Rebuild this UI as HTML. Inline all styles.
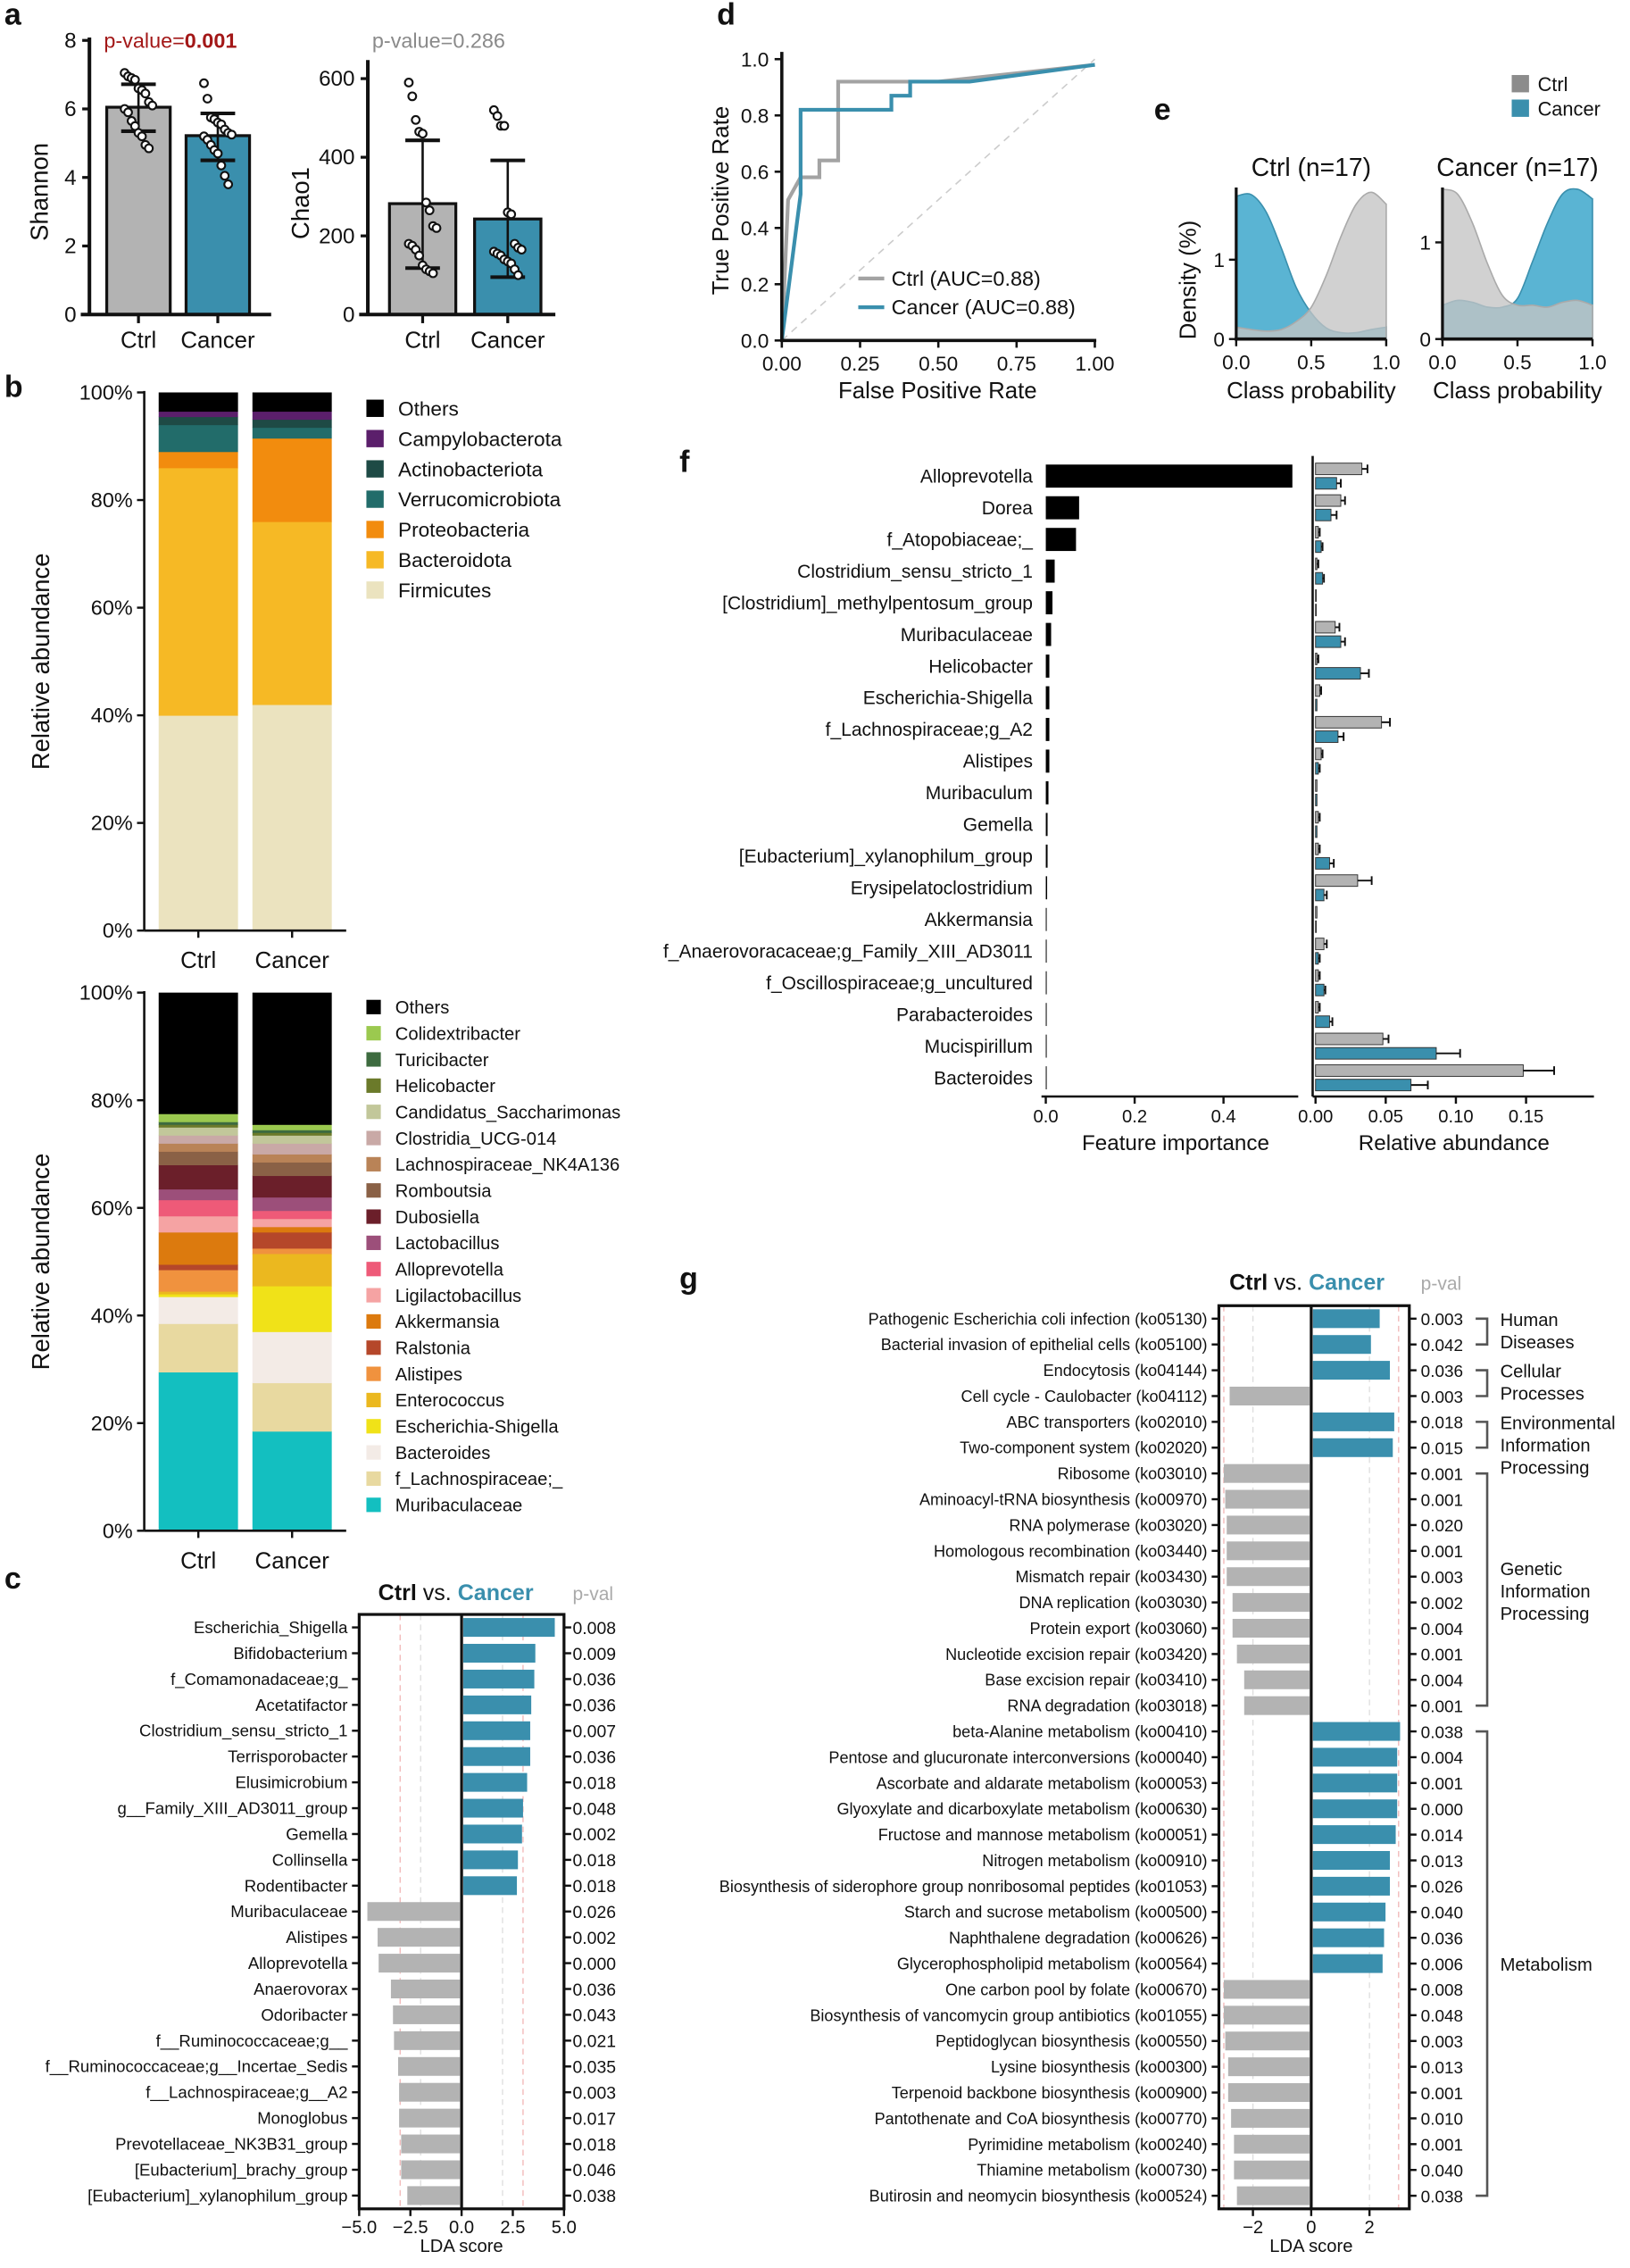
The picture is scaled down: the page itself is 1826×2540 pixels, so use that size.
<!DOCTYPE html>
<html><head><meta charset="utf-8"><style>
html,body{margin:0;padding:0;background:#fff;}
svg{display:block;font-family:"Liberation Sans",Arial,sans-serif;}
</style></head><body>
<svg id="fig" xmlns="http://www.w3.org/2000/svg" width="1826" height="2540" viewBox="0 0 1130 1572" preserveAspectRatio="none"></svg>
<script>
// ---------- data ----------
const groups=['Ctrl','Cancer'];
const shannonMean=[6.05,5.22];
const shannonLo=[5.35,4.5];
const shannonHi=[6.72,5.87];
const shannonCtrlPts=[7.05,6.95,6.9,6.85,6.6,6.55,6.45,6.2,6.1,6.0,5.9,5.65,5.5,5.3,5.2,4.95,4.85];
const shannonCancerPts=[6.75,6.3,5.75,5.7,5.6,5.55,5.4,5.3,5.25,5.2,5.1,4.95,4.8,4.7,4.35,4.05,3.8];
const shannonTicks=[0,2,4,6,8];
const chaoMean=[282,243];
const chaoLo=[118,95];
const chaoHi=[443,392];
const chaoCtrlPts=[590,555,495,465,460,285,265,225,220,180,175,165,150,125,115,110,105];
const chaoCancerPts=[520,505,480,480,260,255,180,170,165,160,155,150,140,135,130,115,100];
const chaoTicks=[0,200,400,600];

const phyla=['Firmicutes','Bacteroidota','Proteobacteria','Verrucomicrobiota','Actinobacteriota','Campylobacterota','Others'];
const phylaColors=['#ebe3bf','#f6b925','#f28c0e','#226c6a','#1e4a45','#5b1f6b','#000000'];
const phylaCtrl=[40,46,3,5,1.5,1,3.5];
const phylaCancer=[42,34,15.5,2,1.5,1.5,3.5];
const pctTicks=[0,20,40,60,80,100];

const genera=['Muribaculaceae','f_Lachnospiraceae;_','Bacteroides','Escherichia-Shigella','Enterococcus','Alistipes','Ralstonia','Akkermansia','Ligilactobacillus','Alloprevotella','Lactobacillus','Dubosiella','Romboutsia','Lachnospiraceae_NK4A136','Clostridia_UCG-014','Candidatus_Saccharimonas','Helicobacter','Turicibacter','Colidextribacter','Others'];
const generaColors=['#13bfc0','#e8d9a0','#f3ebe6','#f0e218','#ebb81f','#f0923e','#b5472a','#dc7a0e','#f5a3a3','#ee5a78','#9c4f7a','#6b1f2a','#8a6146','#b98357','#c9a9a6','#c2c79a','#6b7a2a','#3d6b3f','#9bc94f','#000000'];
const generaCtrl=[29.5,9,5,0.5,0.5,4,1,6,3,3,2,4.5,2.5,1.5,1.5,1.5,0.5,0.5,1.5];
const generaCancer=[18.5,9,9.5,8.5,6,1,3,1,1.5,1.5,2.5,4,2.5,1.5,2,1.5,0.5,0.5,1];

const ldaC_names=['Escherichia_Shigella','Bifidobacterium','f_Comamonadaceae;g_','Acetatifactor','Clostridium_sensu_stricto_1','Terrisporobacter','Elusimicrobium','g__Family_XIII_AD3011_group','Gemella','Collinsella','Rodentibacter','Muribaculaceae','Alistipes','Alloprevotella','Anaerovorax','Odoribacter','f__Ruminococcaceae;g__','f__Ruminococcaceae;g__Incertae_Sedis','f__Lachnospiraceae;g__A2','Monoglobus','Prevotellaceae_NK3B31_group','[Eubacterium]_brachy_group','[Eubacterium]_xylanophilum_group'];
const ldaC_vals=[4.55,3.6,3.55,3.4,3.35,3.35,3.2,3.0,2.95,2.75,2.7,-4.6,-4.1,-4.05,-3.45,-3.35,-3.3,-3.1,-3.05,-3.05,-2.95,-2.95,-2.65];
const ldaC_p=['0.008','0.009','0.036','0.036','0.007','0.036','0.018','0.048','0.002','0.018','0.018','0.026','0.002','0.000','0.036','0.043','0.021','0.035','0.003','0.017','0.018','0.046','0.038'];
const ldaC_ticks=[-5,-2.5,0,2.5,5];

const rocCtrlFpr=[0,0.02,0.06,0.12,0.12,0.18,0.18,0.5,1.0];
const rocCtrlTpr=[0,0.5,0.58,0.58,0.64,0.64,0.92,0.92,0.98];
const rocCancerFpr=[0,0.06,0.06,0.35,0.35,0.41,0.41,0.6,1.0];
const rocCancerTpr=[0,0.52,0.82,0.82,0.87,0.87,0.92,0.92,0.98];
const rocTicks=[0,0.2,0.4,0.6,0.8,1.0];
const rocXTicks=[0,0.25,0.5,0.75,1.0];

const densX=[0,0.1,0.2,0.3,0.4,0.5,0.6,0.7,0.8,0.9,1.0];
const densCtrlPanelCancer=[1.8,1.82,1.6,1.15,0.65,0.33,0.14,0.08,0.08,0.12,0.15];
const densCtrlPanelCtrl=[0.15,0.12,0.1,0.12,0.22,0.4,0.8,1.3,1.7,1.85,1.7];
const densCancerPanelCtrl=[1.55,1.5,1.2,0.78,0.45,0.35,0.35,0.33,0.38,0.4,0.35];
const densCancerPanelCancer=[0.35,0.4,0.38,0.33,0.33,0.42,0.8,1.2,1.5,1.55,1.45];

const fNames=['Alloprevotella','Dorea','f_Atopobiaceae;_','Clostridium_sensu_stricto_1','[Clostridium]_methylpentosum_group','Muribaculaceae','Helicobacter','Escherichia-Shigella','f_Lachnospiraceae;g_A2','Alistipes','Muribaculum','Gemella','[Eubacterium]_xylanophilum_group','Erysipelatoclostridium','Akkermansia','f_Anaerovoracaceae;g_Family_XIII_AD3011','f_Oscillospiraceae;g_uncultured','Parabacteroides','Mucispirillum','Bacteroides'];
const fImportance=[0.555,0.075,0.068,0.02,0.015,0.012,0.008,0.008,0.008,0.008,0.006,0.004,0.004,0.003,0.002,0.002,0.002,0.002,0.002,0.002];
const fCtrlAbund=[0.033,0.018,0.002,0.001,0.0,0.014,0.001,0.003,0.047,0.004,0.001,0.002,0.002,0.03,0.001,0.006,0.002,0.002,0.048,0.148];
const fCtrlErr=[0.004,0.003,0.001,0.001,0.0,0.003,0.001,0.001,0.006,0.001,0.0,0.001,0.001,0.01,0.0,0.002,0.001,0.001,0.004,0.022];
const fCancerAbund=[0.015,0.011,0.004,0.005,0.0,0.018,0.032,0.001,0.016,0.002,0.001,0.001,0.01,0.006,0.0,0.002,0.006,0.01,0.086,0.068];
const fCancerErr=[0.003,0.004,0.001,0.001,0.0,0.003,0.006,0.0,0.004,0.001,0.0,0.0,0.003,0.002,0.0,0.001,0.001,0.002,0.017,0.012];
const fImpTicks=[0,0.2,0.4];
const fAbTicks=[0,0.05,0.1,0.15];

const ldaG_names=['Pathogenic Escherichia coli infection (ko05130)','Bacterial invasion of epithelial cells (ko05100)','Endocytosis (ko04144)','Cell cycle - Caulobacter (ko04112)','ABC transporters (ko02010)','Two-component system (ko02020)','Ribosome (ko03010)','Aminoacyl-tRNA biosynthesis (ko00970)','RNA polymerase (ko03020)','Homologous recombination (ko03440)','Mismatch repair (ko03430)','DNA replication (ko03030)','Protein export (ko03060)','Nucleotide excision repair (ko03420)','Base excision repair (ko03410)','RNA degradation (ko03018)','beta-Alanine metabolism (ko00410)','Pentose and glucuronate interconversions (ko00040)','Ascorbate and aldarate metabolism (ko00053)','Glyoxylate and dicarboxylate metabolism (ko00630)','Fructose and mannose metabolism (ko00051)','Nitrogen metabolism (ko00910)','Biosynthesis of siderophore group nonribosomal peptides (ko01053)','Starch and sucrose metabolism (ko00500)','Naphthalene degradation (ko00626)','Glycerophospholipid metabolism (ko00564)','One carbon pool by folate (ko00670)','Biosynthesis of vancomycin group antibiotics (ko01055)','Peptidoglycan biosynthesis (ko00550)','Lysine biosynthesis (ko00300)','Terpenoid backbone biosynthesis (ko00900)','Pantothenate and CoA biosynthesis (ko00770)','Pyrimidine metabolism (ko00240)','Thiamine metabolism (ko00730)','Butirosin and neomycin biosynthesis (ko00524)'];
const ldaG_vals=[2.35,2.05,2.7,-2.8,2.85,2.8,-3.0,-2.95,-2.9,-2.9,-2.9,-2.7,-2.7,-2.55,-2.3,-2.3,3.05,2.95,2.95,2.95,2.9,2.7,2.7,2.55,2.5,2.45,-3.0,-3.0,-2.95,-2.85,-2.85,-2.75,-2.65,-2.65,-2.55];
const ldaG_p=['0.003','0.042','0.036','0.003','0.018','0.015','0.001','0.001','0.020','0.001','0.003','0.002','0.004','0.001','0.004','0.001','0.038','0.004','0.001','0.000','0.014','0.013','0.026','0.040','0.036','0.006','0.008','0.048','0.003','0.013','0.001','0.010','0.001','0.040','0.038'];
const ldaG_ticks=[-2,0,2];
const ldaG_cats=['Human|Diseases','Cellular|Processes','Environmental|Information|Processing','Genetic|Information|Processing','Metabolism'];
const ldaG_catStart=[0,2,4,6,16];
const ldaG_catEnd=[1,3,5,15,34];

// ---------- helpers ----------
const NS='http://www.w3.org/2000/svg';
const svg=document.getElementById('fig');
const TEAL='#3a8fad', GRAY='#b3b3b3';
function mk(tag,attrs,parent){const e=document.createElementNS(NS,tag);for(const k in attrs)e.setAttribute(k,attrs[k]);(parent||svg).appendChild(e);return e;}
function txt(x,y,s,size,opts,parent,name){
  const t=mk('text',Object.assign({x:x,y:y,'font-size':size,fill:'#111'},opts||{}),parent);
  t.textContent=s;
  
  
  return t;}
function line(x1,y1,x2,y2,sw,col,parent,extra){return mk('line',Object.assign({x1:x1,y1:y1,x2:x2,y2:y2,stroke:col||'#111','stroke-width':sw||1},extra||{}),parent);}
function grp(name){const g=mk('g',{});return g;}

[['a',3,17],['b',3,275],['c',3,1101],['d',497,17],['e',800,83],['f',471,327],['g',471,893]].forEach(p=>{
  txt(p[1],p[2],p[0],21,{'font-weight':'bold'},null,'panel-letter-'+p[0]);
});

// ---------- panel a ----------
function barDot(gname,ax,y0,yfun,maxTick,ticks,mean,lo,hi,ptsA,ptsB,ylab,ylabX,xEnd,centers,w){
  const g=grp(gname);
  const ys=yfun;
  for(let i=0;i<2;i++){
    const r=mk('rect',{x:centers[i]-w/2,y:ys(mean[i]),width:w,height:y0-ys(mean[i]),fill:i?TEAL:GRAY,stroke:'#111','stroke-width':2},g);
    
    
    const el=line(centers[i],ys(lo[i]),centers[i],ys(hi[i]),1.6,'#111',g);
    
    
    line(centers[i]-12,ys(lo[i]),centers[i]+12,ys(lo[i]),2.5,'#111',g);
    line(centers[i]-12,ys(hi[i]),centers[i]+12,ys(hi[i]),2.5,'#111',g);
    const pts=i?ptsB:ptsA;
    pts.forEach((v,k)=>{
      const dx=(((k*37)%9)-4)*2.4;
      const c=mk('circle',{cx:centers[i]+dx,cy:ys(v),r:2.7,fill:'#fff',stroke:'#111','stroke-width':1.3},g);
      
      
    });
    line(centers[i],y0,centers[i],y0+6,2,'#111',g);
    txt(centers[i],y0+23,groups[i],16,{'text-anchor':'middle'},g,'x-tick-label');
  }
  line(ax,ys(maxTick)-2,ax,y0,2.5,'#111',g);
  line(ax-6,y0,xEnd,y0,2.5,'#111',g);
  ticks.forEach(t=>{line(ax-5,ys(t),ax,ys(t),2,'#111',g);txt(ax-9,ys(t)+5,String(t),15,{'text-anchor':'end'},g,'y-tick-label');});
  const cy=(y0+ys(maxTick))/2+10;
  txt(ylabX,cy,ylab,17,{'text-anchor':'middle',transform:'rotate(-90 '+ylabX+' '+cy+')'},g,'y-axis-title');
  return g;
}
const gA1=barDot('shannon-chart',62,218,v=>218-v*23.75,8,shannonTicks,shannonMean,shannonLo,shannonHi,shannonCtrlPts,shannonCancerPts,'Shannon',33,188,[96,151],44);
const pv1=txt(72,33,'p-value=',14.5,{fill:'#a31818'},gA1,'p-value-shannon');
const ts=mk('tspan',{'font-weight':'bold'},pv1);ts.textContent='0.001';
const gA2=barDot('chao1-chart',255,218,v=>218-v*0.2725,640,chaoTicks,chaoMean,chaoLo,chaoHi,chaoCtrlPts,chaoCancerPts,'Chao1',214,385,[293,352],46);
txt(258,33,'p-value=0.286',14.5,{fill:'#8a8a8a'},gA2,'p-value-chao1');

// ---------- panel b ----------
function stacked(gname,yTop,y0,names,colors,ctrl,cancer,legendY0,legendStep,sq,fs){
  const g=grp(gname);
  const sc=(y0-yTop)/100;
  const yv=v=>y0-v*sc;
  [ctrl,cancer].forEach((arr,gi)=>{
    const x=gi?175:110;
    let cum=0;
    const vals=arr.slice();
    if(vals.length<names.length){vals.push(100-vals.reduce((a,b)=>a+b,0));}
    vals.forEach((v,k)=>{
      const r=mk('rect',{x:x,y:yv(cum+v),width:55,height:v*sc+0.3,fill:colors[k]},g);
      
      
      cum+=v;
    });
    line(x+27.5,y0,x+27.5,y0+5,1.5,'#111',g);
    txt(x+27.5,y0+26,groups[gi],16,{'text-anchor':'middle'},g,'x-tick-label');
  });
  line(100,yTop-1,100,y0,1.6,'#111',g);
  line(100,y0,240,y0,1.6,'#111',g);
  pctTicks.forEach(t=>{line(95,yv(t),100,yv(t),1.5,'#111',g);txt(92,yv(t)+5,t+'%',14.5,{'text-anchor':'end'},g,'y-tick-label');});
  const cy=(yTop+y0)/2;
  txt(34,cy,'Relative abundance',17,{'text-anchor':'middle',transform:'rotate(-90 34 '+cy+')'},g,'y-axis-title');
  for(let k=names.length-1,j=0;k>=0;k--,j++){
    const ly=legendY0+j*legendStep;
    const r=mk('rect',{x:254,y:ly-sq/2,width:sq,height:sq,fill:colors[k]},g);
    
    
    txt(254+sq+10,ly+fs*0.36,names[k],fs,{},g,'legend-entry');
  }
}
stacked('phylum-stacked-chart',272,645,phyla,phylaColors,phylaCtrl.slice(0,6),phylaCancer.slice(0,6),283,21,12,14);
stacked('genus-stacked-chart',688,1061,genera,generaColors,generaCtrl,generaCancer,698,18.16,10,12.5);

// ---------- LDA helper ----------
function lda(gname,names,vals,pvals,ticks,zx,unit,left,right,top,row0,step,axisY,labelX,pX,headX,headY,lfs,tickFmt,dashes){
  const g=grp(gname);
  const xs=v=>zx+v*unit;
  dashes.forEach(d=>{line(xs(d[0]),top,xs(d[0]),axisY,0.8,d[1],g,{'stroke-dasharray':'4,3'});});
  names.forEach((n,i)=>{
    const y=row0+i*step;
    const v=vals[i];
    const r=mk('rect',{x:Math.min(xs(v),zx+(v>0?1.2:0)),y:y-6.5,width:Math.abs(xs(v)-zx)-1.2,height:13,fill:v>0?TEAL:GRAY},g);
    
    
    line(left-5,y,left,y,1.5,'#111',g);
    line(right,y,right+5,y,1.5,'#111',g);
    txt(labelX,y+4,n,lfs,{'text-anchor':'end'},g,'row-label');
    txt(pX,y+4.5,pvals[i],lfs+0.5,{},g,'p-value');
  });
  mk('rect',{x:left,y:top,width:right-left,height:axisY-top,fill:'none',stroke:'#111','stroke-width':2},g);
  line(zx,top,zx,axisY,2,'#111',g);
  ticks.forEach(t=>{line(xs(t),axisY,xs(t),axisY+5,1.5,'#111',g);txt(xs(t),axisY+17,tickFmt(t),12.5,{'text-anchor':'middle'},g,'x-tick-label');});
  txt(zx,axisY+30,'LDA score',12.5,{'text-anchor':'middle'},g,'x-axis-title');
  const h=txt(headX,headY,'',15.5,{'text-anchor':'middle','font-weight':'bold'},g,'comparison-title');
  const a=mk('tspan',{fill:'#111'},h);a.textContent='Ctrl';
  const b=mk('tspan',{fill:'#111','font-weight':'normal'},h);b.textContent=' vs. ';
  const c=mk('tspan',{fill:TEAL},h);c.textContent='Cancer';
  txt(pX,headY,'p-val',13,{fill:'#aaa'},g,'p-val-header');
}
lda('lda-genus-chart',ldaC_names,ldaC_vals,ldaC_p,ldaC_ticks,320,14.2,249,391,1119,1128,17.9,1531,241,397,316,1109,11.5,t=>(t<0?'\u2212':'')+Math.abs(t).toFixed(1),[[-3,'#f1b5b5'],[-2,'#dddddd'],[2,'#dddddd'],[3,'#f1b5b5']]);
lda('lda-pathway-chart',ldaG_names,ldaG_vals,ldaG_p,ldaG_ticks,909,20.2,845,977,905,914,17.88,1531,837,985,906,894,11.2,t=>(t<0?'\u2212':'')+Math.abs(t),[[-3,'#f1b5b5'],[-2,'#dddddd'],[2,'#dddddd'],[3,'#f1b5b5']]);
(function(){
  const g=grp('pathway-categories');
  ldaG_cats.forEach((c,i)=>{
    const y1=914+ldaG_catStart[i]*17.88, y2=914+ldaG_catEnd[i]*17.88;
    const b=mk('path',{d:'M1023 '+y1+' H1031 V'+y2+' H1023',fill:'none',stroke:'#555','stroke-width':1.6},g);
    
    
    const lines=c.split('|');
    const mid=(y1+y2)/2;
    const startY=(i<3)?y1+5:mid-(lines.length-1)*7.5+5;
    lines.forEach((l,k)=>txt(1040,startY+k*15.5,l,12.5,{},g,'category-label'));
  });
})();

// ---------- panel d ROC ----------
(function(){
  const g=grp('roc-chart');
  const xs=v=>542+v*217, ys=v=>236-v*195;
  line(xs(0),ys(0),xs(1),ys(1),1,'#ccc',g,{'stroke-dasharray':'5,4'});
  [[rocCtrlFpr,rocCtrlTpr,'#a3a3a3','roc-ctrl'],[rocCancerFpr,rocCancerTpr,TEAL,'roc-cancer']].forEach(s=>{
    const p=mk('polyline',{points:s[0].map((x,i)=>xs(x)+','+ys(s[1][i])).join(' '),fill:'none',stroke:s[2],'stroke-width':2.6},g);
    
    
  });
  line(542,36,542,237,2.2,'#111',g);
  line(541,236,760,236,2.2,'#111',g);
  rocTicks.forEach(t=>{line(537,ys(t),542,ys(t),1.6,'#111',g);txt(533,ys(t)+5,t.toFixed(1),14,{'text-anchor':'end'},g,'y-tick-label');});
  rocXTicks.forEach(t=>{line(xs(t),236,xs(t),241,1.6,'#111',g);txt(xs(t),257,t.toFixed(2),14,{'text-anchor':'middle'},g,'x-tick-label');});
  txt(650,276,'False Positive Rate',16,{'text-anchor':'middle'},g,'x-axis-title');
  txt(505,139,'True Positive Rate',16,{'text-anchor':'middle',transform:'rotate(-90 505 139)'},g,'y-axis-title');
  line(595,193,613,193,2.6,'#a3a3a3',g);
  line(595,213,613,213,2.6,TEAL,g);
  txt(618,198,'Ctrl (AUC=0.88)',14.5,{},g,'legend-entry');
  txt(618,218,'Cancer (AUC=0.88)',14.5,{},g,'legend-entry');
})();

// ---------- panel e density ----------
(function(){
  const g=grp('density-charts');
  function panel(x0,title,ctrl,cancer,unit,name){
    const sg=mk('g',{},g);
    
    
    const xs=v=>x0+v*104, ys=v=>235-v*unit;
    function area(arr,fill,op,stroke){
      const P=densX.map((x,i)=>[xs(x),ys(arr[i])]);
      let d='M'+xs(0)+' '+ys(0)+' L'+P[0][0]+' '+P[0][1];
      for(let i=0;i<P.length-1;i++){
        const p0=P[Math.max(i-1,0)],p1=P[i],p2=P[i+1],p3=P[Math.min(i+2,P.length-1)];
        const c1=[p1[0]+(p2[0]-p0[0])/6,p1[1]+(p2[1]-p0[1])/6];
        const c2=[p2[0]-(p3[0]-p1[0])/6,p2[1]-(p3[1]-p1[1])/6];
        d+=' C'+c1[0]+' '+c1[1]+' '+c2[0]+' '+c2[1]+' '+p2[0]+' '+p2[1];
      }
      d+=' L'+xs(1)+' '+ys(0)+' Z';
      return mk('path',{d:d,fill:fill,'fill-opacity':op,stroke:stroke,'stroke-width':1},sg);
    }
    const a1=area(cancer,'#5ab4d3',1,'#3a8fad');
    
    
    const a2=area(ctrl,'#c4c4c4',0.78,'#aaa');
    
    
    line(x0,130,x0,236,2,'#111',sg);
    line(x0-1,235,x0+104,235,2.2,'#111',sg);
    [0,1].forEach(t=>{line(x0-5,ys(t),x0,ys(t),1.5,'#111',sg);txt(x0-8,ys(t)+5,String(t),14,{'text-anchor':'end'},sg,'y-tick-label');});
    [0,0.5,1].forEach(t=>{line(xs(t),235,xs(t),240,1.5,'#111',sg);txt(xs(t),256,t.toFixed(1),14,{'text-anchor':'middle'},sg,'x-tick-label');});
    txt(x0+52,276,'Class probability',16,{'text-anchor':'middle'},sg,'x-axis-title');
    txt(x0+52,122,title,17.5,{'text-anchor':'middle'},sg,'subplot-title');
  }
  panel(857,'Ctrl (n=17)',densCtrlPanelCtrl,densCtrlPanelCancer,55,'density-ctrl-panel');
  panel(1000,'Cancer (n=17)',densCancerPanelCtrl,densCancerPanelCancer,67,'density-cancer-panel');
  txt(829,194,'Density (%)',16,{'text-anchor':'middle',transform:'rotate(-90 829 194)'},g,'y-axis-title');
  const s1=mk('rect',{x:1048,y:52,width:12,height:12,fill:'#8c8c8c'},g);
  
  
  const s2=mk('rect',{x:1048,y:69,width:12,height:12,fill:TEAL},g);
  
  
  txt(1066,63,'Ctrl',13.5,{},g,'legend-entry');
  txt(1066,80,'Cancer',13.5,{},g,'legend-entry');
})();

// ---------- panel f ----------
(function(){
  const g=grp('feature-importance-chart');
  const row0=330, step=21.95;
  const xi=v=>725+v*308;
  const xa=v=>912+v*973;
  fNames.forEach((n,i)=>{
    const y=row0+i*step;
    txt(716,y+4.5,n,13,{'text-anchor':'end'},g,'feature-label');
    const b=mk('rect',{x:xi(0),y:y-8,width:Math.max(xi(fImportance[i])-xi(0),0.6),height:16,fill:'#000'},g);
    
    
    [[fCtrlAbund,fCtrlErr,GRAY,-9],[fCancerAbund,fCancerErr,TEAL,1]].forEach(s=>{
      const v=s[0][i], e=s[1][i];
      const r=mk('rect',{x:xa(0),y:y+s[3],width:Math.max(xa(v)-xa(0),0.5),height:8,fill:s[2],stroke:'#333','stroke-width':0.6},g);
      
      
      if(e>0){line(xa(v),y+s[3]+4,xa(v+e),y+s[3]+4,1.2,'#111',g);line(xa(v+e),y+s[3]+1,xa(v+e),y+s[3]+7,1.2,'#111',g);}
    });
  });
  line(722,760,900,760,1.6,'#111',g);
  fImpTicks.forEach(t=>{line(xi(t),760,xi(t),765,1.5,'#111',g);txt(xi(t),778,t.toFixed(1),12.5,{'text-anchor':'middle'},g,'x-tick-label');});
  txt(815,797,'Feature importance',15,{'text-anchor':'middle'},g,'x-axis-title');
  line(910,316,910,760,1.6,'#111',g);
  line(910,760,1105,760,1.6,'#111',g);
  fAbTicks.forEach(t=>{line(xa(t),760,xa(t),765,1.5,'#111',g);txt(xa(t),778,t.toFixed(2),12.5,{'text-anchor':'middle'},g,'x-tick-label');});
  txt(1008,797,'Relative abundance',15,{'text-anchor':'middle'},g,'x-axis-title');
})();
</script>
</body></html>
